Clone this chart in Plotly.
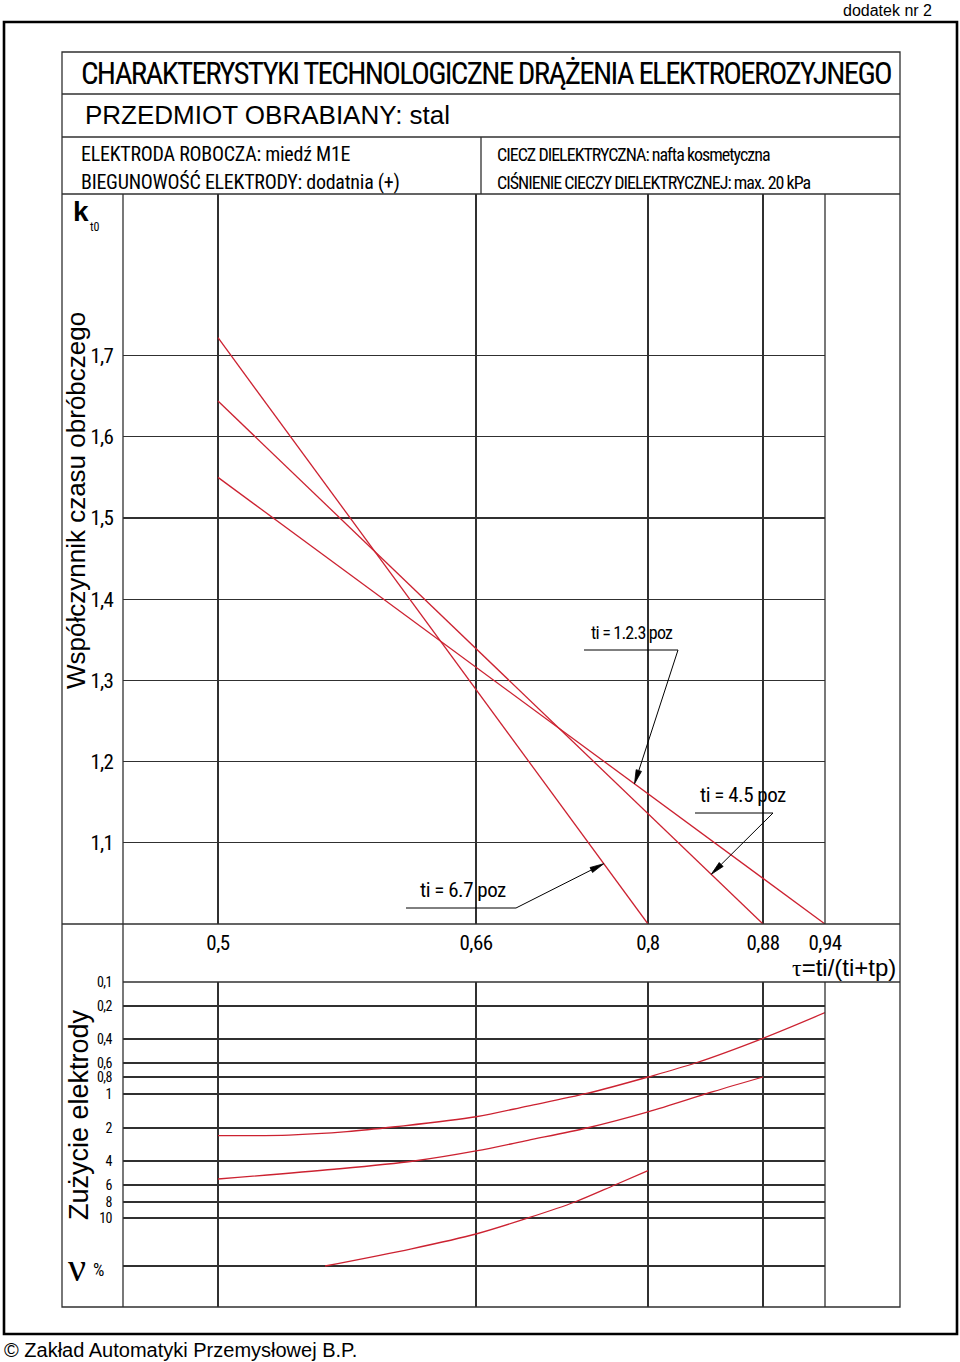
import numpy as np
import plotly.graph_objects as go

# ---------------- data ----------------
TAU_TICKS = [0.5, 0.66, 0.8, 0.88, 0.94]
TAU_LABELS = ["0,5", "0,66", "0,8", "0,88", "0,94"]

K_TICKS = [1.1, 1.2, 1.3, 1.4, 1.5, 1.6, 1.7]
K_LABELS = ["1,1", "1,2", "1,3", "1,4", "1,5", "1,6", "1,7"]

NU_TICKS = [0.1, 0.2, 0.4, 0.6, 0.8, 1, 2, 4, 6, 8, 10, 20]
NU_LABELS = ["0,1", "0,2", "0,4", "0,6", "0,8", "1", "2", "4", "6", "8", "10", ""]

# time coefficient k_t0 – straight lines (start at tau = 0.5, end at k = 1.0)
KT_NAMES = ["ti = 6.7 poz", "ti = 4.5 poz", "ti = 1.2.3 poz"]
KT_TAU_START = [0.5, 0.5, 0.5]
KT_K_START = [1.722, 1.644, 1.550]
KT_TAU_END = [0.80, 0.88, 0.94]
KT_K_END = [1.0, 1.0, 1.0]
KT_ARROW_TAU = [0.764, 0.844, 0.789]   # where the leader arrows touch the lines

# electrode wear nu [%]
WEAR_A_TAU = [0.50, 0.544, 0.58, 0.61, 0.66, 0.702, 0.751, 0.80, 0.833, 0.88, 0.94]
WEAR_A_NU = [2.35, 2.32, 2.16, 1.95, 1.59, 1.28, 0.99, 0.80, 0.60, 0.394, 0.23]

WEAR_B_TAU = [0.50, 0.572, 0.6216, 0.66, 0.7023, 0.7511, 0.80, 0.8452, 0.88]
WEAR_B_NU = [5.42, 4.6, 4.0, 3.24, 2.59, 1.99, 1.44, 0.97, 0.80]

WEAR_C_TAU = [0.5664, 0.62, 0.66, 0.7023, 0.7405, 0.773, 0.80]
WEAR_C_NU = [20.0, 15.6, 12.6, 10.0, 8.0, 6.0, 4.71]

# ---------------- scale definition of the printed form (layout) ----------------
W, H = 960, 1362
PLOT_L, PLOT_R = 123, 825          # left / right edge of the grid (px)
UP_T, UP_B = 194, 924              # upper panel top / bottom (px)
LO_T, LO_B = 982, 1307             # lower panel top / bottom (px)
TAU_GRID_POS = [95, 353, 525, 640, 702]            # drawing units along the tau scale
NU_GRID_POS = [0, 24, 57, 81, 95, 112, 146, 179, 203, 220, 236, 284]  # drawing units down the nu scale
NU_RANGE_END = LO_B - LO_T
K_RANGE = [1.0, 1.899]


def tau_scale(t):
    return np.interp(np.asarray(t, float), TAU_TICKS, TAU_GRID_POS)


def nu_scale(v):
    return np.interp(np.log10(np.asarray(v, float)), np.log10(NU_TICKS), NU_GRID_POS)


NARROW = ("Roboto Condensed, Noto Sans Condensed, Liberation Sans Narrow, Arial Narrow, "
          "DejaVu Sans Condensed, sans-serif")
SANS = "Liberation Sans, Arial, sans-serif"
SERIF = "Liberation Serif, Times New Roman, serif"
GRID = "#303030"
RED = "#cc2231"


def PX(x):
    return x / W


def PY(y):
    return 1 - y / H


def tight(text, ls):
    return f'<span style="letter-spacing:{ls}px">{text}</span>'


fig = go.Figure()

# upper panel lines
for name, t0, k0, t1, k1 in zip(KT_NAMES, KT_TAU_START, KT_K_START, KT_TAU_END, KT_K_END):
    fig.add_trace(go.Scatter(x=tau_scale([t0, t1]), y=[k0, k1], mode="lines",
                             line=dict(color=RED, width=1.3), name=name,
                             xaxis="x", yaxis="y", hoverinfo="skip"))

# lower panel curves
for tt, nn in [(WEAR_A_TAU, WEAR_A_NU), (WEAR_B_TAU, WEAR_B_NU), (WEAR_C_TAU, WEAR_C_NU)]:
    fig.add_trace(go.Scatter(x=tau_scale(tt), y=nu_scale(nn), mode="lines",
                             line=dict(color=RED, width=1.3, shape="spline", smoothing=0.9),
                             xaxis="x2", yaxis="y2", hoverinfo="skip"))

dom_x = [PX(PLOT_L), PX(PLOT_R)]
axis_common = dict(showgrid=True, gridcolor=GRID, gridwidth=1.3, zeroline=False,
                   showline=False, ticks="")
fig.update_layout(
    width=W, height=H, margin=dict(l=0, r=0, t=0, b=0, pad=0, autoexpand=False), autosize=False,
    paper_bgcolor="white", plot_bgcolor="white", showlegend=False,
    xaxis=dict(domain=dom_x, range=[0, TAU_GRID_POS[-1]], tickvals=tau_scale(TAU_TICKS),
               ticktext=[tight(t, -0.5) for t in TAU_LABELS],
               tickfont=dict(family=NARROW, size=21, color="black"),
               ticklabelstandoff=4, anchor="y", **axis_common),
    yaxis=dict(domain=[PY(UP_B), PY(UP_T)], range=K_RANGE, tickvals=K_TICKS,
               ticktext=[tight(t, -0.8) for t in K_LABELS],
               tickfont=dict(family=NARROW, size=21, color="black"), ticklabelstandoff=9,
               anchor="x", **axis_common),
    xaxis2=dict(domain=dom_x, range=[0, TAU_GRID_POS[-1]], tickvals=tau_scale(TAU_TICKS),
                showticklabels=False, anchor="y2", **axis_common),
    yaxis2=dict(domain=[PY(LO_B), PY(LO_T)], range=[NU_RANGE_END, 0], tickvals=nu_scale(NU_TICKS),
                ticktext=[tight(t, -0.5) for t in NU_LABELS],
                tickfont=dict(family=NARROW, size=14, color="black"),
                ticklabelstandoff=10, anchor="x2", **axis_common),
)

# ---------------- form frame (layout shapes) ----------------
shapes = []


def rect(x0, y0, x1, y1, w, color):
    shapes.append(dict(type="rect", xref="paper", yref="paper", x0=PX(x0), x1=PX(x1),
                       y0=PY(y1), y1=PY(y0), line=dict(color=color, width=w)))


def seg(x0, y0, x1, y1, w=1.3, color=GRID):
    shapes.append(dict(type="line", xref="paper", yref="paper", x0=PX(x0), x1=PX(x1),
                       y0=PY(y0), y1=PY(y1), line=dict(color=color, width=w)))


rect(4, 22, 957, 1334, 2.6, "black")
rect(62, 52, 900, LO_B, 1.3, GRID)
seg(62, 94, 900, 94)
seg(62, 137, 900, 137)
seg(62, UP_T, 900, UP_T)
seg(481, 137, 481, UP_T)
seg(PLOT_L, UP_T, PLOT_L, LO_B)
seg(62, UP_B, 900, UP_B)
seg(PLOT_L, LO_T, 900, LO_T)
seg(PLOT_R, UP_T, PLOT_R, UP_B)
seg(PLOT_R, LO_T, PLOT_R, LO_B)

# leader lines with narrow filled arrowheads pointing at the k_t0 lines
underlines = [(406, 516, 908), (695, 773, 813), (584, 678, 650)]   # x0, x1 (tail), y
kspan = K_RANGE[1] - K_RANGE[0]
for t0, k0, t1, k1, ta, (ux0, ux1, uy) in zip(KT_TAU_START, KT_K_START, KT_TAU_END, KT_K_END,
                                              KT_ARROW_TAU, underlines):
    xs = tau_scale([t0, t1])
    xa = float(tau_scale(ta))
    ka = float(np.interp(xa, xs, [k0, k1]))
    tipx = PLOT_L + xa
    tipy = UP_B - (ka - K_RANGE[0]) / kspan * (UP_B - UP_T)
    seg(ux0, uy, ux1, uy, 1.0, "black")
    dx, dy = tipx - ux1, tipy - uy
    L = np.hypot(dx, dy)
    ux, uy_ = dx / L, dy / L
    head, half = 14.0, 2.8
    bx, by = tipx - ux * head, tipy - uy_ * head
    seg(ux1, uy, bx, by, 1.0, "black")
    p1 = (bx - uy_ * half, by + ux * half)
    p2 = (bx + uy_ * half, by - ux * half)
    shapes.append(dict(type="path", xref="paper", yref="paper",
                       path=(f"M{PX(tipx)},{PY(tipy)} L{PX(p1[0])},{PY(p1[1])} "
                             f"L{PX(p2[0])},{PY(p2[1])} Z"),
                       fillcolor="black", line=dict(color="black", width=0.8)))
fig.update_layout(shapes=shapes)

# ---------------- texts ----------------
ann = []


def txt(text, x, y, size, family=NARROW, xanchor="left", yanchor="middle", angle=0):
    ann.append(dict(text=text, x=PX(x), y=PY(y), xref="paper", yref="paper", showarrow=False,
                    xanchor=xanchor, yanchor=yanchor, textangle=angle,
                    font=dict(family=family, size=size, color="black")))


txt("dodatek nr 2", 934, 11, 16, SANS, xanchor="right")
txt(tight("CHARAKTERYSTYKI TECHNOLOGICZNE DRĄŻENIA ELEKTROEROZYJNEGO", -1.7), 79, 74, 31)
txt("PRZEDMIOT OBRABIANY: stal", 83, 115, 26, SANS)
txt(tight("ELEKTRODA ROBOCZA: miedź M1E", -0.25), 79, 154, 20)
txt(tight("BIEGUNOWOŚĆ ELEKTRODY: dodatnia (+)", -0.25), 79, 182, 20)
txt(tight("CIECZ DIELEKTRYCZNA: nafta kosmetyczna", -1.0), 495, 154, 18)
txt(tight("CIŚNIENIE CIECZY DIELEKTRYCZNEJ: max. 20 kPa", -1.0), 495, 182, 18)
txt("<b>k</b>", 71, 212, 28, SANS)
txt("t0", 88, 227, 12)
txt("Współczynnik czasu obróbczego", 76, 501, 26, SANS, xanchor="center", angle=-90)
txt("Zużycie elektrody", 79, 1115, 27, SANS, xanchor="center", angle=-90)
txt("ν", 66, 1267, 40, SERIF)
txt("%", 91, 1269, 18)
txt("<span style=\"font-family:Liberation Serif\">τ</span>=ti/(ti+tp)", 898, 967, 24, SANS,
    xanchor="right")
txt(tight("ti = 6.7 poz", -0.5), 418, 890, 21)
txt(tight("ti = 4.5 poz", -0.5), 698, 795, 21)
txt(tight("ti = 1.2.3 poz", -0.8), 589, 633, 18)
txt("© Zakład Automatyki Przemysłowej B.P.", 2, 1350, 20, SANS)

fig.update_layout(annotations=ann)

PAGE_JS = """
document.documentElement.style.margin='0';
document.body.style.margin='0';
document.body.style.overflow='hidden';
"""

fig.write_html(
    "out.html",
    config={"responsive": False, "displayModeBar": False, "staticPlot": True},
    post_script=PAGE_JS,
)
